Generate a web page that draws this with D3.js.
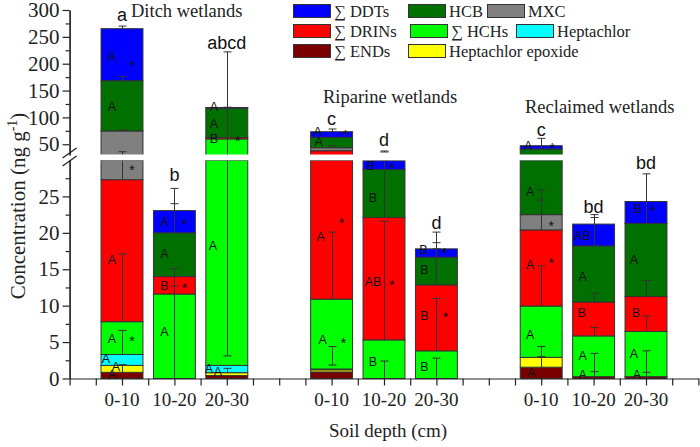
<!DOCTYPE html>
<html><head><meta charset="utf-8">
<script src="https://cdn.jsdelivr.net/npm/d3@7"></script>
<style>
html,body{margin:0;padding:0;background:#fff;}
svg{display:block;}
</style></head>
<body>
<svg id="chart" width="700" height="447"></svg>
<script>
// ---------------- DATA ----------------
const groupTitles = ["Ditch wetlands", "Riparine wetlands", "Reclaimed wetlands"];
const depthLabels = ["0-10", "10-20", "20-30", "0-10", "10-20", "20-30", "0-10", "10-20", "20-30"];
const barPos = [1, 2, 3, 5, 6, 7, 9, 10, 11];
const seriesKeys = ["ENDs", "HeptEpox", "Hept", "HCHs", "DRINs", "MXC", "HCB", "DDTs"];
const seriesNames = ["\u2211 ENDs", "Heptachlor epoxide", "Heptachlor", "\u2211 HCHs", "\u2211 DRINs", "MXC", "HCB", "\u2211 DDTs"];
const ENDs     = [0.85, 0,    0.4,  0.9,  0,    0,    1.55, 0.25, 0.25];
const HeptEpox = [0.95, 0,    0.4,  0.3,  0,    0,    1.35, 0,    0];
const Hept     = [1.5,  0,    1.0,  0.1,  0,    0,    0,    0,    0];
const HCHs     = [4.5,  11.6, 58.2, 9.6,  5.3,  3.8,  7.05, 5.6,  6.2];
const DRINs    = [19.5, 2.4,  2.5,  27.1, 16.8, 9.05, 10.45,4.65, 4.8];
const MXC      = [47.4, 0,    0,    5.6,  0,    0,    2.1,  0,    0];
const HCB      = [93.7, 6.0,  54.5, 19.4, 6.6,  3.8,  18.7, 7.7,  10.05];
const DDTs     = [96.8, 3.05, 1.5,  10.4, 1.2,  1.15, 6.1,  3.0,  3.0];

// error bars (visible extents)
const errBar = [0,0,0,0,0,0,0, 1,1,1,1, 2,2,2,2, 3,3,3,3, 4,4,4,4, 5,5,5,5, 6,6,6,6,6,6, 7,7,7,7,7,7, 8,8,8,8,8];
const errLo  = [0.85,3.3,7.8,27.3,74.7,168.4,265.2, 0,11.6,20.0,20.0, 3.1,0.8,60.5,117.5, 1.85,10.9,43.6,73.4, 0,5.3,22.1,35.6, 0,3.8,12.85,17.8, 1.55,2.9,9.95,20.4,22.5,41.2, 0.25,0.25,5.85,10.5,18.2,18.2, 0.25,0.25,6.45,11.25,21.3];
const errHi  = [1.9,6.6,17.1,36.1,76.5,176,270, 12.7,15.1,24.0,26.1, 222,1.4,62.5,119, 4.4,20.1,47.3,78.4, 2.4,21.6,30,37.4, 2.8,11,20.1,18.65, 3.0,4.4,15.45,25.9,24.5,61, 3.45,0.95,7.0,11.7,22.5,22.1, 3.8,0.85,8.6,13.45,28.1];
const errCapLo=[0,0,0,0,0,0,0, 0,0,0,0, 1,0,0,0, 1,0,0,0, 0,0,0,1, 0,0,0,1, 0,0,0,0,0,0, 0,0,0,0,0,0, 0,0,0,0,0];

// significance letters inside bars
const lblBar  = [0,0,0,0,0,0,0,0,0,0, 1,1,1,1,1,1, 2,2,2,2,2,2,2, 3,3,3,3,3,3,3, 4,4,4,4,4,4, 5,5,5,5,5,5, 6,6,6,6,6,6,6,6, 7,7,7,7,7, 8,8,8,8,8,8];
const lblVal  = [213,202,120,29.1,16.3,5.5,5.5,2.8,1.6,0.5, 21.6,21.6,17.1,12.8,12.8,6.4, 120,89,61,61,18.2,1.4,1.0, 73.4,73,54.8,19.5,21.8,5.3,5.3, 29.3,29.3,24.8,13.3,13.3,2.4, 17.65,17.65,14.9,8.6,8.8,1.6, 48.6,48.6,25.7,21.4,15.6,16.3,6.0,0.8, 19.6,14.0,9.0,3.1,0.5, 23.4,23.4,16.3,9.0,3.5,0.5];
const lblText = ["A","*","A","*","A","A","*","A","A","A", "A","*","A","B","*","A", "A","A","B","*","A","A","A", "A","*","A","A","*","A","*", "B","*","B","AB","*","B", "B","*","B","B","*","B", "A","*","A","*","A","*","A","A", "AB","A","B","A","A", "B","*","A","B","A","A"];
const lblSlot = [-1,1,-1,1,-1,-1,1,-1.6,-0.6,-1.0, -1,1,-1,-1,1,-1, -1.3,-1.3,-1.3,1.1,-1.4,-1.8,-0.9, -1.4,1.4,-1.3,-1.1,1.0,-0.9,1.2, -1.3,0.8,-1.1,-1.1,0.8,-1.1, -1.3,0.8,-1.2,-1.2,0.9,-1.2, -1.3,1.1,-1.1,1.0,-1.1,1.0,-1.1,-1.0, -1.1,-1.1,-1.2,-1.1,-1.1, -0.8,0.7,-1.2,-1.0,-1.2,-0.9];

// letters above bars
const topText = ["a", "b", "abcd", "c", "d", "d", "c", "bd", "bd"];
const topVal  = [290.7, 28.0, 239, 96.5, 58, 21.3, 76.5, 23.6, 29.6];

const yLowTicks = [0, 5, 10, 15, 20, 25];
const yLowMinor = [2.5, 7.5, 12.5, 17.5, 22.5, 27.5];
const yHighTicks = [50, 100, 150, 200, 250, 300];
const yHighMinor = [75, 125, 175, 225, 275];

// ---------------- LAYOUT / STYLE ----------------
const colors = {ENDs:"#7a0000", HeptEpox:"#ffff00", Hept:"#00ffff", HCHs:"#00ff00", DRINs:"#ff0000", MXC:"#808080", HCB:"#007000", DDTs:"#0000ff"};
const seriesData = {ENDs, HeptEpox, Hept, HCHs, DRINs, MXC, HCB, DDTs};
const serif = "'Liberation Serif','Times New Roman',serif";
const sans = "'Liberation Sans',Arial,sans-serif";
const ink = "#222";
const edge = "#333";

const svg = d3.select("#chart");
const x = d3.scaleLinear().domain([0, 12]).range([69.6, 698.4]);
const yLow = d3.scaleLinear().domain([0, 30]).range([378.5, 160]);
const yHigh = d3.scaleLinear().domain([30, 300]).range([155, 10]);
const y = v => v <= 30 ? yLow(v) : yHigh(v);
const bw = x(0.8) - x(0);

// stacked data
const table = barPos.map((p, i) => {
  const o = {pos: p};
  seriesKeys.forEach(k => o[k] = seriesData[k][i]);
  return o;
});
const stacked = d3.stack().keys(seriesKeys)(table);

const gBars = svg.append("g");
stacked.forEach(layer => {
  const key = layer.key;
  layer.forEach((d, i) => {
    const a = d[0], b = d[1];
    if (b - a <= 0) return;
    const pieces = [];
    if (b <= 30) pieces.push([a, b]);
    else if (a >= 30) pieces.push([a, b]);
    else { pieces.push([a, 30]); pieces.push([30, b]); }
    pieces.forEach(([p0, p1]) => {
      gBars.append("rect")
        .attr("x", x(barPos[i]) - bw / 2)
        .attr("width", bw)
        .attr("y", y(p1))
        .attr("height", Math.max(0.8, y(p0) - y(p1)))
        .attr("fill", colors[key])
        .attr("stroke", edge)
        .attr("stroke-width", 1);
    });
  });
});

// error bars
const gErr = svg.append("g").attr("stroke", edge).attr("stroke-width", 1).attr("fill", "none");
errBar.forEach((bi, j) => {
  const cx = Math.round(x(barPos[bi])) + 0.5;
  const lo = y(errLo[j]), hi = y(errHi[j]);
  gErr.append("line").attr("x1", cx).attr("x2", cx).attr("y1", lo).attr("y2", hi);
  gErr.append("line").attr("x1", cx - 4).attr("x2", cx + 4).attr("y1", hi).attr("y2", hi);
  if (errCapLo[j]) gErr.append("line").attr("x1", cx - 4).attr("x2", cx + 4).attr("y1", lo).attr("y2", lo);
});

// letters inside bars
const gLbl = svg.append("g").attr("font-family", sans).attr("fill", "#111");
lblBar.forEach((bi, j) => {
  const isStar = lblText[j] === "*";
  gLbl.append("text")
    .attr("x", x(barPos[bi]) + lblSlot[j] * 10)
    .attr("y", y(lblVal[j]) + (isStar ? 8 : 4.5))
    .attr("text-anchor", "middle")
    .attr("font-size", isStar ? 14 : 12.5)
    .text(lblText[j]);
});

// axis break gap
svg.append("rect").attr("x", 70.5).attr("y", 154.5).attr("width", 630).attr("height", 5.8).attr("fill", "#fff");

// letters above bars
svg.append("g").attr("font-family", sans).attr("fill", "#111").attr("font-size", 18)
  .selectAll("text").data(topText).join("text")
  .attr("x", (d, i) => x(barPos[i]))
  .attr("y", (d, i) => y(topVal[i]) + 6)
  .attr("text-anchor", "middle")
  .text(d => d);

// Y axes
function styleAxis(g) {
  g.selectAll("path,line").attr("stroke", ink).attr("stroke-width", 1.2);
  g.selectAll("text").attr("font-family", serif).attr("font-size", 21).attr("fill", ink);
}
const gyl = svg.append("g").attr("transform", `translate(${x(0)},0)`)
  .call(d3.axisLeft(yLow).tickValues(yLowTicks).tickSize(7).tickSizeOuter(0).tickPadding(3));
styleAxis(gyl);
const gylm = svg.append("g").attr("transform", `translate(${x(0)},0)`)
  .call(d3.axisLeft(yLow).tickValues(yLowMinor).tickSize(4).tickSizeOuter(0).tickFormat(""));
styleAxis(gylm);
const gyh = svg.append("g").attr("transform", `translate(${x(0)},0)`)
  .call(d3.axisLeft(yHigh).tickValues(yHighTicks).tickSize(7).tickSizeOuter(0).tickPadding(3));
styleAxis(gyh);
const gyhm = svg.append("g").attr("transform", `translate(${x(0)},0)`)
  .call(d3.axisLeft(yHigh).tickValues(yHighMinor).tickSize(4).tickSizeOuter(0).tickFormat(""));
styleAxis(gyhm);

// break marks
const gBreak = svg.append("g").attr("stroke", ink).attr("stroke-width", 1.3);
gBreak.append("line").attr("x1", x(0) - 7).attr("y1", 158).attr("x2", x(0) + 7).attr("y2", 148);
gBreak.append("line").attr("x1", x(0) - 7).attr("y1", 166).attr("x2", x(0) + 7).attr("y2", 156);

// X axis
const gx = svg.append("g").attr("transform", `translate(0,${yLow(0)})`)
  .call(d3.axisBottom(x).tickValues(d3.range(0, 12.01, 0.5)).tickSize(7).tickSizeOuter(0).tickFormat(""));
gx.selectAll("path,line").attr("stroke", ink).attr("stroke-width", 1.2);

svg.append("g").attr("font-family", serif).attr("font-size", 19).attr("fill", ink)
  .selectAll("text").data(depthLabels).join("text")
  .attr("x", (d, i) => x(barPos[i]))
  .attr("y", 406)
  .attr("text-anchor", "middle")
  .text(d => d);

svg.append("text").attr("x", 388).attr("y", 437).attr("text-anchor", "middle")
  .attr("font-family", serif).attr("font-size", 19).attr("fill", ink).text("Soil depth (cm)");

const yl = svg.append("text").attr("transform", "translate(25,206) rotate(-90)")
  .attr("text-anchor", "middle").attr("font-family", serif).attr("font-size", 21).attr("fill", ink);
yl.append("tspan").text("Concentration (ng g");
yl.append("tspan").attr("font-size", 14).attr("dy", -8).text("-1");
yl.append("tspan").attr("dy", 8).text(")");

// group titles
const titlePos = [[131, 17], [323, 103], [525, 113]];
svg.append("g").attr("font-family", serif).attr("font-size", 18.5).attr("fill", ink)
  .selectAll("text").data(groupTitles).join("text")
  .attr("x", (d, i) => titlePos[i][0]).attr("y", (d, i) => titlePos[i][1]).text(d => d);

// legend
const legendOrder = ["DDTs", "HCB", "MXC", "DRINs", "HCHs", "Hept", "ENDs", "HeptEpox"];
const legendPos = [[293, 4], [408, 4], [487, 4], [293, 24], [410, 24], [516, 24], [293, 44], [408, 44]];
const gLeg = svg.append("g");
legendOrder.forEach((k, i) => {
  const [lx, ly] = legendPos[i];
  gLeg.append("rect").attr("x", lx + 0.5).attr("y", ly + 0.5).attr("width", 37).attr("height", 13)
    .attr("fill", colors[k]).attr("stroke", edge).attr("stroke-width", 1);
  gLeg.append("text").attr("x", lx + 41).attr("y", ly + 12.5)
    .attr("font-family", serif).attr("font-size", 16.5).attr("fill", ink)
    .text(seriesNames[seriesKeys.indexOf(k)]);
});
</script>
</body></html>
